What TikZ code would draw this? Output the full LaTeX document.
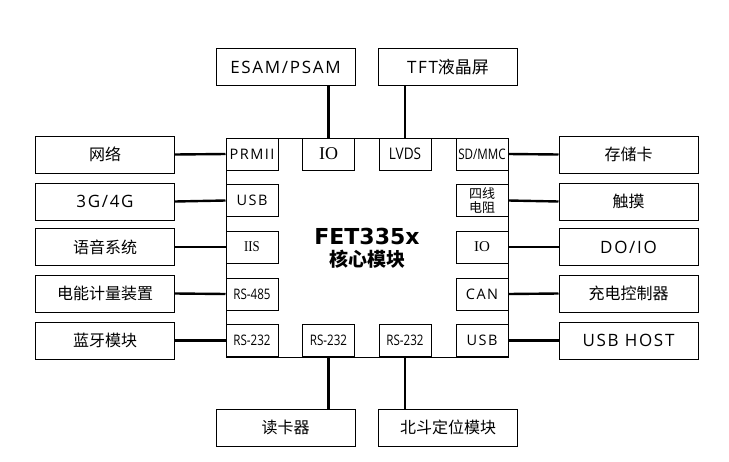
\documentclass[tikz,border=0pt]{standalone}
\usepackage{fontspec}
\setmainfont{Open Sans}
\newfontfamily\widesans[LetterSpace=10]{Open Sans}
\newfontfamily\cjk{Noto Sans CJK SC}
\newfontfamily\serifio{Liberation Serif}
\newfontfamily\titlefont{DejaVu Sans}
\usetikzlibrary{positioning}

\tikzset{
  ext/.style={draw, line width=1pt, minimum width=139pt, minimum height=37pt, inner sep=0pt, font=\widesans\fontsize{17}{19}\selectfont},
  cjkext/.style={ext, font=\cjk\fontsize{16}{18}\selectfont},
  port/.style={draw, line width=1pt, minimum width=52pt, minimum height=32pt, inner sep=0pt, font=\widesans\fontsize{14.5}{16}\selectfont},
  narrow/.style={port, font=\fontsize{14.5}{16}\selectfont},
  link/.style={line width=2.4pt}
}

\begin{document}
\begin{tikzpicture}[x=1pt, y=-1pt]
  %%%%% START %%%%%
  \useasboundingbox (0,0) rectangle (729,461);

  % core module
  \draw[line width=1pt] (226,138) rectangle (508,357);
  \node[font=\titlefont\bfseries\fontsize{22}{24}\selectfont] (core) at (367,236) {FET335x};
  \node[font=\cjk\bfseries\fontsize{19}{21}\selectfont] (corecn) at (367,259) {核心模块};

  % left ports
  \node[port] (prmii) at (252,154) {PRMII};
  \node[port] (usbl)  at (252,200.5) {USB};
  \node[port, font=\serifio\fontsize{15}{16}\selectfont] (iis) at (252,247) {\scalebox{0.85}[1]{IIS}};
  \node[narrow] (rs485) at (252,294) {\scalebox{0.8}[1]{RS-485}};
  \node[narrow] (rsl)   at (252,340.5) {\scalebox{0.8}[1]{RS-232}};

  % right ports
  \node[narrow] (sdmmc) at (482,154) {\scalebox{0.8}[1]{SD/MMC}};
  \node[port, align=center, font=\cjk\fontsize{13}{13.5}\selectfont] (res4) at (482,200.5) {四线\\电阻};
  \node[port, font=\serifio\fontsize{15}{16}\selectfont] (ior) at (482,247) {IO};
  \node[port] (can)   at (482,294) {CAN};
  \node[port] (usbr)  at (482,340.5) {USB};

  % top and bottom ports
  \node[port, font=\serifio\fontsize{18}{20}\selectfont] (iot) at (328.5,154) {IO};
  \node[narrow, font=\fontsize{16}{18}\selectfont] (lvds) at (405,154) {\scalebox{0.85}[1]{LVDS}};
  \node[narrow] (rsb1) at (328.5,340.5) {\scalebox{0.8}[1]{RS-232}};
  \node[narrow] (rsb2) at (405,340.5) {\scalebox{0.8}[1]{RS-232}};

  % outer devices, left
  \node[cjkext] (net)   at (105,154.5) {网络};
  \node[ext]    (g34)   at (105,201.5) {3G/4G};
  \node[cjkext] (audio) at (105,247) {语音系统};
  \node[cjkext] (meter) at (105,293.5) {电能计量装置};
  \node[cjkext] (bt)    at (105,340.5) {蓝牙模块};

  % outer devices, right
  \node[cjkext] (card)   at (628.5,154.5) {存储卡};
  \node[cjkext] (touch)  at (628.5,201.5) {触摸};
  \node[ext]    (doio)   at (628.5,247) {DO/IO};
  \node[cjkext] (charge) at (628.5,293.5) {充电控制器};
  \node[ext]    (host)   at (628.5,340.5) {USB HOST};

  % outer devices, top and bottom
  \node[ext]    (esam)   at (285.5,67) {ESAM/PSAM};
  \node[ext]    (tft)    at (448,67) {TFT{\cjk 液晶屏}};
  \node[cjkext] (reader) at (285.5,427.5) {读卡器};
  \node[cjkext] (bds)    at (448,427.5) {北斗定位模块};

  % links
  \draw[link] (net.east) -- (prmii.west);
  \draw[link] (g34.east) -- (usbl.west);
  \draw[link] (audio.east) -- (iis.west);
  \draw[link] (meter.east) -- (rs485.west);
  \draw[link] (bt.east) -- (rsl.west);

  \draw[link] (sdmmc.east) -- (card.west);
  \draw[link] (res4.east) -- (touch.west);
  \draw[link] (ior.east) -- (doio.west);
  \draw[link] (can.east) -- (charge.west);
  \draw[link] (usbr.east) -- (host.west);

  \draw[link] (iot.north) -- (iot.north |- esam.south);
  \draw[link] (lvds.north) -- (lvds.north |- tft.south);
  \draw[link] (rsb1.south) -- (rsb1.south |- reader.north);
  \draw[link] (rsb2.south) -- (rsb2.south |- bds.north);
  %%%%% END %%%%%
\end{tikzpicture}
\end{document}
